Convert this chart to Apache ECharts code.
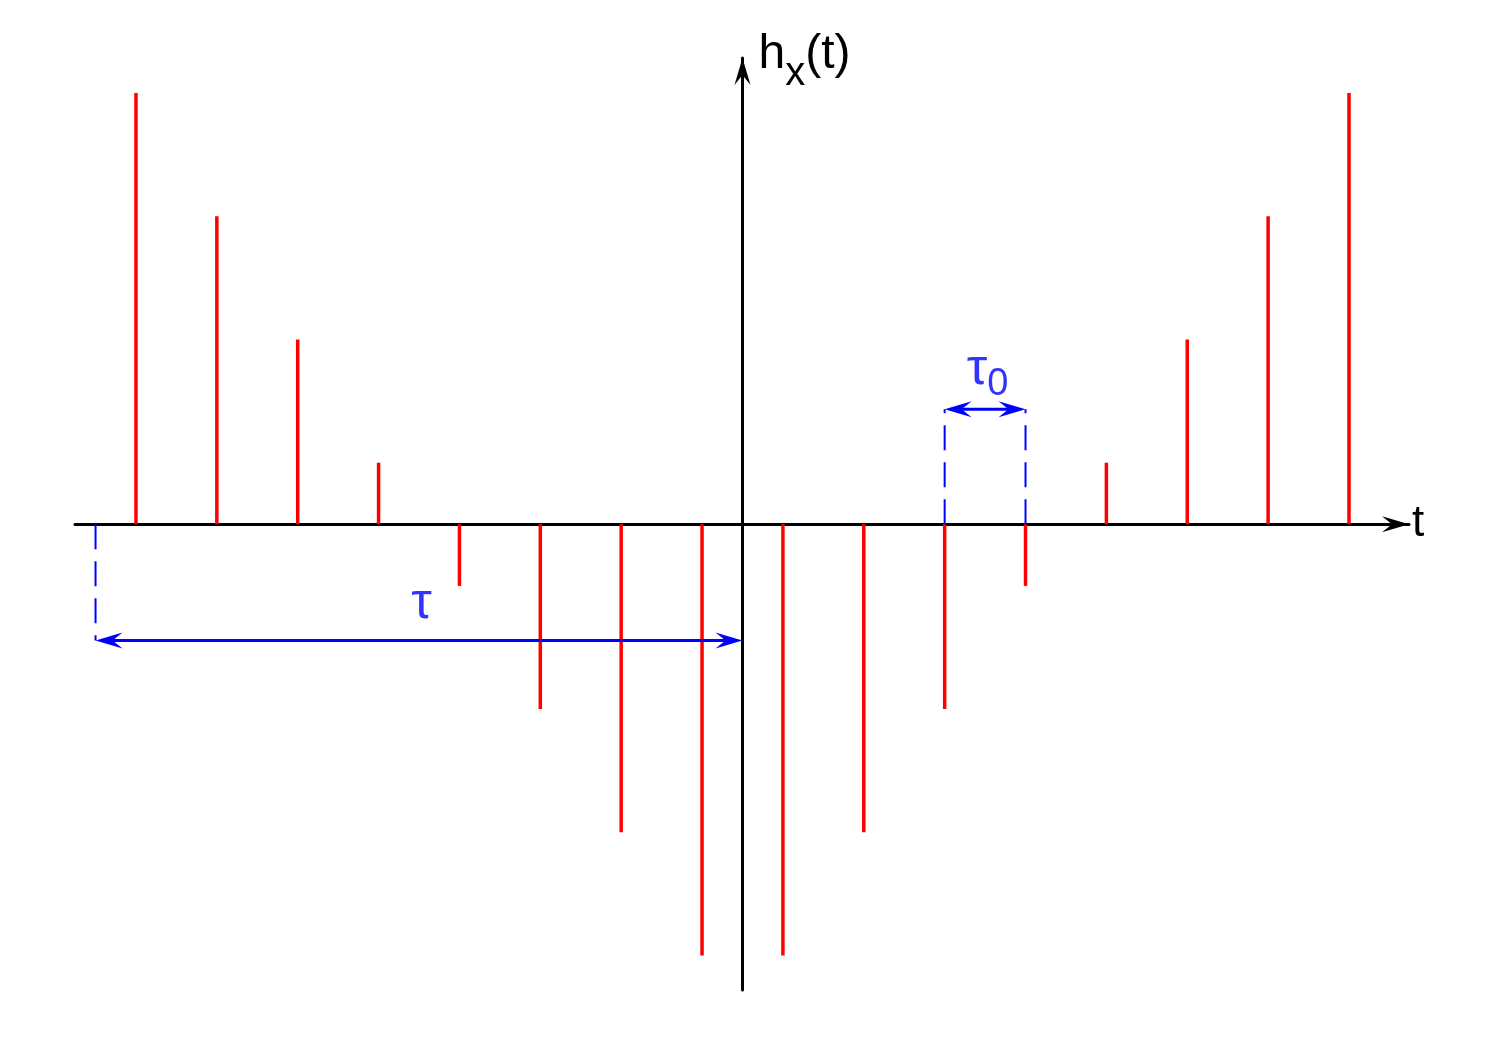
<!DOCTYPE html>
<html>
<head>
<meta charset="utf-8">
<script src="https://cdn.jsdelivr.net/npm/echarts@6/dist/echarts.min.js"></script>
<style>html,body{margin:0;padding:0;background:#fff}#c{width:1500px;height:1050px}</style>
</head>
<body>
<div id="c"></div>
<script>
// stem positions (in units of tau0) and heights
const stemT = [-7.5, -6.5, -5.5, -4.5, -3.5, -2.5, -1.5, -0.5, 0.5, 1.5, 2.5, 3.5, 4.5, 5.5, 6.5, 7.5];
const stemH = [3.5, 2.5, 1.5, 0.5, -0.5, -1.5, -2.5, -3.5, -3.5, -2.5, -1.5, -0.5, 0.5, 1.5, 2.5, 3.5];
// annotation spans and levels
const tauSpan = [-8, 0];
const tauLevel = -0.943;
const tau0Span = [2.5, 3.5];
const tau0Level = 0.933;
// text labels
const xName = 't';
const yName = '{m|h}{s|x}{m|(t)}';
const tauText = '{t|τ}';
const tau0Text = '{t|τ}{s|0}';
const tauLabelPos = [-3.97, -0.645];
const tau0LabelPos = [3.03, 1.257];

const FONT = '"Liberation Sans", Arial, Helvetica, sans-serif';
const BLUE = '#0000ff';
const AXIS_ARROW = 'path://M8,0 M8,27 L16,54 L8,44 L0,54 Z';

const stemData = stemT.map((t, i) => [t, stemH[i]]);
const arrowData = [
  [tauSpan[0], tauSpan[1], tauLevel],
  [tau0Span[0], tau0Span[1], tau0Level]
];
const dashData = [
  [[tauSpan[0], 0], [tauSpan[0], tauLevel]],
  [[tau0Span[0], 0], [tau0Span[0], tau0Level]],
  [[tau0Span[1], 0], [tau0Span[1], tau0Level]]
];

function arrowHead(P, d) {
  const L = 27, W = 8, N = 17;
  const nx = -d[1], ny = d[0];
  return [
    [P[0], P[1]],
    [P[0] - d[0] * L + nx * W, P[1] - d[1] * L + ny * W],
    [P[0] - d[0] * N, P[1] - d[1] * N],
    [P[0] - d[0] * L - nx * W, P[1] - d[1] * L - ny * W]
  ];
}

function renderArrow(params, api) {
  const a = api.coord([api.value(0), api.value(2)]);
  const b = api.coord([api.value(1), api.value(2)]);
  const dx = b[0] - a[0], dy = b[1] - a[1];
  const len = Math.hypot(dx, dy);
  const ux = dx / len, uy = dy / len;
  return {
    type: 'group',
    children: [
      {type: 'line', shape: {x1: a[0] + ux * 8, y1: a[1] + uy * 8, x2: b[0] - ux * 8, y2: b[1] - uy * 8},
       style: {stroke: BLUE, lineWidth: 3}},
      {type: 'polygon', shape: {points: arrowHead(b, [ux, uy])}, style: {fill: BLUE}},
      {type: 'polygon', shape: {points: arrowHead(a, [-ux, -uy])}, style: {fill: BLUE}}
    ]
  };
}

const dashSeries = dashData.map((d, i) => ({
  type: 'line', name: 'dash' + i, data: d, symbol: 'none', silent: true, z: 3,
  lineStyle: {color: BLUE, width: 2, type: [25, 12]}
}));

const chart = echarts.init(document.getElementById('c'), null, {renderer: 'canvas'});
chart.setOption({
  animation: false,
  backgroundColor: '#fff',
  grid: {left: 75, right: 91, top: 58, bottom: 60, outerBoundsMode: 'none'},
  xAxis: {
    type: 'value', min: -8.254, max: 8.242,
    splitLine: {show: false}, axisTick: {show: false}, axisLabel: {show: false},
    axisLine: {onZero: true, symbol: ['none', AXIS_ARROW], symbolSize: [16, 54],
      lineStyle: {color: '#000', width: 3}},
    name: xName, nameLocation: 'end', nameGap: 3,
    nameTextStyle: {fontFamily: FONT, fontSize: 44, color: '#000', padding: [8, 0, 0, 0]}
  },
  yAxis: {
    type: 'value', min: -3.780, max: 3.785,
    splitLine: {show: false}, axisTick: {show: false}, axisLabel: {show: false},
    axisLine: {onZero: true, symbol: ['none', AXIS_ARROW], symbolSize: [16, 54],
      lineStyle: {color: '#000', width: 3}},
    name: yName, nameLocation: 'end', nameGap: 3,
    nameTextStyle: {
      align: 'left', verticalAlign: 'middle', padding: [0, 0, 0, 16],
      rich: {
        m: {fontFamily: FONT, fontSize: 48, color: '#000'},
        s: {fontFamily: FONT, fontSize: 40, color: '#000', padding: [38, 0, 0, 0]}
      }
    }
  },
  series: [
    {
      type: 'bar', name: 'stems', data: stemData, barWidth: 3.5, z: 1,
      itemStyle: {color: '#ff0000'}, silent: true
    },
    ...dashSeries,
    {
      type: 'custom', name: 'arrows', data: arrowData, renderItem: renderArrow,
      encode: {x: [0, 1], y: 2}, silent: true, z: 4
    },
    {
      type: 'scatter', name: 'labels', symbolSize: 0, silent: true,
      data: [
        {value: tauLabelPos, label: {formatter: tauText}},
        {value: tau0LabelPos, label: {formatter: tau0Text}}
      ],
      label: {
        show: true, position: 'inside',
        rich: {
          t: {fontFamily: FONT, fontSize: 52, color: BLUE},
          s: {fontFamily: FONT, fontSize: 38, color: BLUE, padding: [30, 0, 0, 0]}
        }
      }
    }
  ]
});
</script>
</body>
</html>
